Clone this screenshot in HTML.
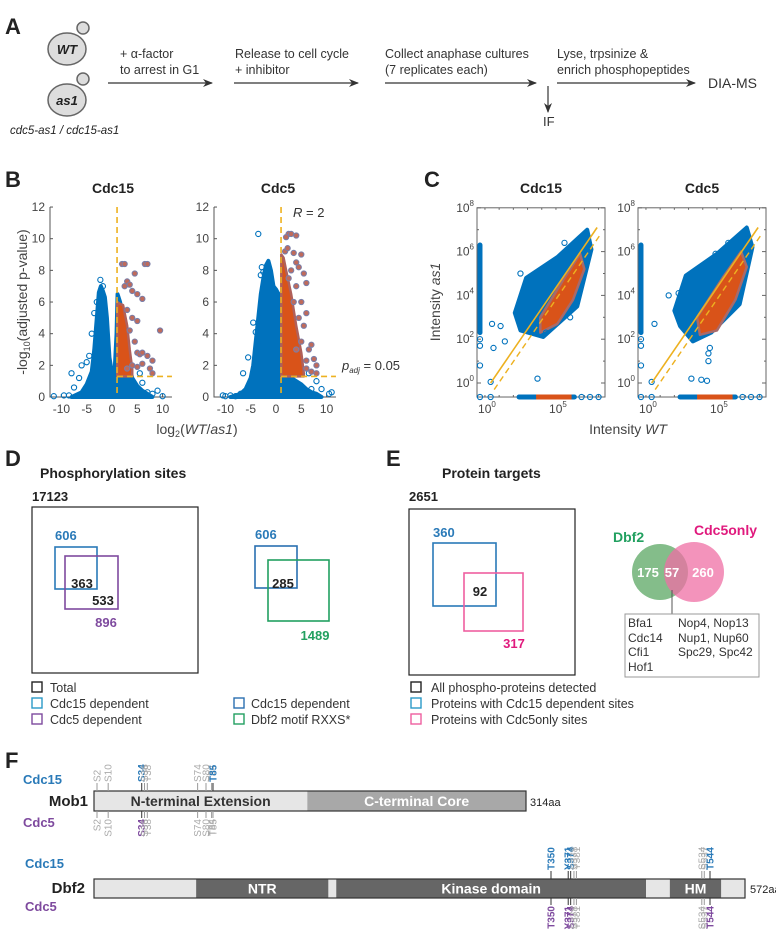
<!DOCTYPE html>
<html><head><meta charset="utf-8"><style>
body{margin:0;background:#fff}
svg{display:block;font-family:"Liberation Sans",Arial,sans-serif}
</style></head><body>
<svg id="fig" width="776" height="930" viewBox="0 0 776 930">
<defs><marker id="ah" markerWidth="10" markerHeight="8" refX="9" refY="4" orient="auto" markerUnits="userSpaceOnUse"><path d="M0,0 L10,4 L0,8 L3,4z" fill="#333"/></marker></defs>
<!-- Panel A -->
<g fill="#222">
<text x="5" y="34" font-size="22" font-weight="bold">A</text>
<circle cx="83" cy="28" r="6" fill="#ddd" stroke="#666" stroke-width="1.5"/>
<ellipse cx="67" cy="49" rx="19" ry="16" fill="#ddd" stroke="#666" stroke-width="1.5"/>
<text x="67" y="54" font-size="13" font-weight="bold" font-style="italic" text-anchor="middle">WT</text>
<circle cx="83" cy="79" r="6" fill="#ddd" stroke="#666" stroke-width="1.5"/>
<ellipse cx="67" cy="100" rx="19" ry="16" fill="#ddd" stroke="#666" stroke-width="1.5"/>
<text x="67" y="105" font-size="13" font-weight="bold" font-style="italic" text-anchor="middle">as1</text>
<text x="10" y="134" font-size="11.5" font-style="italic">cdc5-as1 / cdc15-as1</text>
<g font-size="12.5" fill="#333">
<text x="120" y="58">+ α-factor</text><text x="120" y="74">to arrest in G1</text>
<text x="235" y="58">Release to cell cycle</text><text x="235" y="74">+ inhibitor</text>
<text x="385" y="58">Collect anaphase cultures</text><text x="385" y="74">(7 replicates each)</text>
<text x="557" y="58">Lyse, trpsinize &amp;</text><text x="557" y="74">enrich phosphopeptides</text>
<text x="708" y="88" font-size="14">DIA-MS</text>
<text x="543" y="126" font-size="13">IF</text>
</g>
<g stroke="#333" stroke-width="1.2" marker-end="url(#ah)">
<line x1="108" y1="83" x2="212" y2="83"/><line x1="234" y1="83" x2="358" y2="83"/>
<line x1="385" y1="83" x2="536" y2="83"/><line x1="557" y1="83" x2="695" y2="83"/>
<line x1="548" y1="86" x2="548" y2="112"/>
</g>
</g>
<!-- Panel B/C labels -->
<g fill="#222">
<text x="5" y="187" font-size="22" font-weight="bold">B</text>
<text x="424" y="187" font-size="22" font-weight="bold">C</text>
<text x="113" y="193" font-size="14" font-weight="bold" text-anchor="middle">Cdc15</text>
<text x="278" y="193" font-size="14" font-weight="bold" text-anchor="middle">Cdc5</text>
<text x="541" y="193" font-size="14" font-weight="bold" text-anchor="middle">Cdc15</text>
<text x="702" y="193" font-size="14" font-weight="bold" text-anchor="middle">Cdc5</text>
<text transform="translate(27,302) rotate(-90)" font-size="14" fill="#444" text-anchor="middle">-log<tspan font-size="9" dy="3">10</tspan><tspan dy="-3">(adjusted p-value)</tspan></text>
<text x="197" y="434" font-size="14" fill="#444" text-anchor="middle">log<tspan font-size="9" dy="3">2</tspan><tspan dy="-3">(</tspan><tspan font-style="italic">WT</tspan>/<tspan font-style="italic">as1</tspan>)</text>
<text x="293" y="217" font-size="13" fill="#333"><tspan font-style="italic">R</tspan> = 2</text>
<text x="342" y="370" font-size="13" fill="#333"><tspan font-style="italic">p</tspan><tspan font-size="8" dy="3" font-style="italic">adj</tspan><tspan dy="-3"> = 0.05</tspan></text>
<text transform="translate(440,302) rotate(-90)" font-size="14" fill="#444" text-anchor="middle">Intensity <tspan font-style="italic">as1</tspan></text>
<text x="628" y="434" font-size="14" fill="#444" text-anchor="middle">Intensity <tspan font-style="italic">WT</tspan></text>
</g>
<g id="charts"></g>
<!-- Panel D -->
<g fill="#222">
<text x="5" y="466" font-size="22" font-weight="bold">D</text>
<text x="40" y="478" font-size="14" font-weight="bold">Phosphorylation sites</text>
<text x="32" y="501" font-size="13" font-weight="bold">17123</text>
<rect x="32" y="507" width="166" height="166" fill="none" stroke="#222" stroke-width="1.2"/>
<rect x="55" y="547" width="42" height="42" fill="none" stroke="#2a7ab8" stroke-width="1.6"/>
<rect x="65" y="556" width="53" height="53" fill="none" stroke="#7E4A9E" stroke-width="1.6"/>
<text x="55" y="540" font-size="13" font-weight="bold" fill="#2a7ab8">606</text>
<text x="82" y="588" font-size="13" font-weight="bold" text-anchor="middle">363</text>
<text x="103" y="605" font-size="13" font-weight="bold" text-anchor="middle">533</text>
<text x="106" y="627" font-size="13" font-weight="bold" text-anchor="middle" fill="#7E4A9E">896</text>
<rect x="255" y="546" width="42" height="42" fill="none" stroke="#2a6fb0" stroke-width="1.6"/>
<rect x="268" y="560" width="61" height="61" fill="none" stroke="#22a060" stroke-width="1.6"/>
<text x="255" y="539" font-size="13" font-weight="bold" fill="#2a7ab8">606</text>
<text x="283" y="588" font-size="13" font-weight="bold" text-anchor="middle">285</text>
<text x="315" y="640" font-size="13" font-weight="bold" text-anchor="middle" fill="#22a060">1489</text>
<g font-size="12.5" fill="#333">
<rect x="32" y="682" width="10" height="10" fill="none" stroke="#222" stroke-width="1.4"/><text x="50" y="692">Total</text>
<rect x="32" y="698" width="10" height="10" fill="none" stroke="#2a9ac8" stroke-width="1.4"/><text x="50" y="708">Cdc15 dependent</text>
<rect x="32" y="714" width="10" height="10" fill="none" stroke="#7E4A9E" stroke-width="1.4"/><text x="50" y="724">Cdc5 dependent</text>
<rect x="234" y="698" width="10" height="10" fill="none" stroke="#2a6fb0" stroke-width="1.4"/><text x="251" y="708">Cdc15 dependent</text>
<rect x="234" y="714" width="10" height="10" fill="none" stroke="#22a060" stroke-width="1.4"/><text x="251" y="724">Dbf2 motif RXXS*</text>
</g>
</g>
<!-- Panel E -->
<g fill="#222">
<text x="386" y="466" font-size="22" font-weight="bold">E</text>
<text x="442" y="478" font-size="14" font-weight="bold">Protein targets</text>
<text x="409" y="501" font-size="13" font-weight="bold">2651</text>
<rect x="409" y="509" width="166" height="166" fill="none" stroke="#222" stroke-width="1.2"/>
<rect x="433" y="543" width="63" height="63" fill="none" stroke="#2a7ab8" stroke-width="1.6"/>
<rect x="464" y="573" width="59" height="58" fill="none" stroke="#ee5fa0" stroke-width="1.6"/>
<text x="433" y="537" font-size="13" font-weight="bold" fill="#2a7ab8">360</text>
<text x="480" y="596" font-size="13" font-weight="bold" text-anchor="middle">92</text>
<text x="514" y="648" font-size="13" font-weight="bold" text-anchor="middle" fill="#e0197d">317</text>
<circle cx="660" cy="572" r="28" fill="#6fb276" opacity="0.85"/>
<circle cx="694" cy="572" r="30" fill="#ef6fa4" opacity="0.75"/>
<text x="613" y="542" font-size="14" font-weight="bold" fill="#22a060">Dbf2</text>
<text x="694" y="535" font-size="14" font-weight="bold" fill="#e0197d">Cdc5only</text>
<g font-size="13" font-weight="bold" fill="#fff" text-anchor="middle">
<text x="648" y="577">175</text><text x="672" y="577">57</text><text x="703" y="577">260</text></g>
<line x1="672" y1="590" x2="672" y2="614" stroke="#555" stroke-width="1"/>
<rect x="625" y="614" width="134" height="63" fill="#fff" stroke="#999" stroke-width="1"/>
<g font-size="12" fill="#333">
<text x="628" y="627">Bfa1</text><text x="628" y="642">Cdc14</text><text x="628" y="656">Cfi1</text><text x="628" y="671">Hof1</text>
<text x="678" y="627">Nop4, Nop13</text><text x="678" y="642">Nup1, Nup60</text><text x="678" y="656">Spc29, Spc42</text>
</g>
<g font-size="12.5" fill="#333">
<rect x="411" y="682" width="10" height="10" fill="none" stroke="#222" stroke-width="1.4"/><text x="431" y="692">All phospho-proteins detected</text>
<rect x="411" y="698" width="10" height="10" fill="none" stroke="#2a9ac8" stroke-width="1.4"/><text x="431" y="708">Proteins with Cdc15 dependent sites</text>
<rect x="411" y="714" width="10" height="10" fill="none" stroke="#ee5fa0" stroke-width="1.4"/><text x="431" y="724">Proteins with Cdc5only sites</text>
</g>
</g>
<!-- Panel F -->
<g>
<text x="5" y="768" font-size="22" font-weight="bold" fill="#222">F</text>
<g font-size="13" font-weight="bold">
<text x="23" y="784" fill="#2a7ab8">Cdc15</text><text x="23" y="827" fill="#7E4A9E">Cdc5</text>
<text x="25" y="868" fill="#2a7ab8">Cdc15</text><text x="25" y="911" fill="#7E4A9E">Cdc5</text>
<text x="88" y="806" font-size="15" fill="#222" text-anchor="end">Mob1</text>
<text x="85" y="893" font-size="15" fill="#222" text-anchor="end">Dbf2</text>
</g>
<g id="proteins"></g>
<text x="530" y="806" font-size="11" fill="#222">314aa</text>
<text x="750" y="893" font-size="11" fill="#222">572aa</text>
</g>
</svg>
<script>
const NS='http://www.w3.org/2000/svg';
function mk(tag,attrs,parent){const e=document.createElementNS(NS,tag);for(const k in attrs)e.setAttribute(k,attrs[k]);parent.appendChild(e);return e;}
const charts=document.getElementById('charts');

// ---- Volcano data (B) ----
const vTicksY=[0,2,4,6,8,10,12];
const vTicksX=[-10,-5,0,5,10];
const cdc15EnvX=[-8,-6,-5,-4,-3.5,-3,-2.6,-2.2,-1.8,-1.4,-1,-0.5,0,0.5,0.9,1.1,1.6,2.2,3,4,5,6,8];
const cdc15EnvY=[0,0.3,0.8,1.6,3,5,6.6,7,6.7,6.3,5,2.5,1.5,1.5,4,6.5,6,5,2.5,1.2,0.7,0.4,0];
const cdc15SigEnvX=[1.05,1.05,1.5,2.2,3,3.5,4,4];
const cdc15SigEnvY=[1.3,6,5.9,5.8,4.5,3,1.8,1.3];
const cdc15OutX=[-11.5,-9.5,-8.5,-7.5,-8,-6.5,-6,-5,-4.5,-4,-3.5,-3,-2.3,-1.8,7,8,9,10,6,5.5];
const cdc15OutY=[0.05,0.1,0.1,0.6,1.5,1.2,2,2.2,2.6,4,5.3,6,7.4,7,0.3,0.2,0.4,0.05,0.9,1.5];
const cdc15SigX=[2,2.5,6.5,7,4.5,3,3.5,2.5,4,5,6,3,4,5,3.5,4.5,5,5.5,6,7,7.5,8,9.5,6,4,3,5,8];
const cdc15SigY=[8.4,8.4,8.4,8.4,7.8,7.3,7.1,7,6.7,6.5,6.2,5.5,5,4.8,4.2,3.5,2.8,2.7,2.8,2.6,1.8,1.5,4.2,2.1,2,1.8,1.9,2.3];
const cdc5EnvX=[-9,-7,-6,-5,-4.5,-4,-3.5,-3,-2.5,-2,-1.5,-1,-0.5,0,0.5,0.9,1.5,3,5,6,7,8,9];
const cdc5EnvY=[0,0.2,0.5,1.2,2,3.5,5,6.5,7.5,8.3,8.6,8,7,6.8,6.5,6.5,2,1.2,0.8,0.5,0.3,0.2,0];
const cdc5SigEnvX=[1.05,1.05,1.5,2,3,4,5,5.5,5.5];
const cdc5SigEnvY=[1.3,9,8.8,8,6.5,4.5,2.8,1.5,1.3];
const cdc5OutX=[-10.5,-10,-9,-8,-7,-6.5,-5.5,-4.5,-4,-3.5,-3,-2.8,-3.5,-2.5,-6,9,11,10.5,7,8,6.5];
const cdc5OutY=[0.1,0.05,0.1,0.05,0.2,1.5,2.5,4.7,4.1,3.5,7.7,8.2,10.3,7.9,0.3,0.5,0.3,0.2,0.5,1,1.5];
const cdc5SigX=[2.5,3,4,2,1.8,2.3,3.5,5,4,4.5,3,5.5,6,2.5,4,3.5,5,6,4.5,5.5,7,6.5,7.5,8,6,5,6,7,4,8];
const cdc5SigY=[10.3,10.3,10.2,10.1,9.2,9.4,9.1,9,8.5,8.2,8,7.8,7.2,7.5,7,6,6,5.3,5,4.5,3.3,3,2.4,2,2.3,3.5,1.8,1.6,3,1.5];
const foldThreshold=1, pThreshold=1.3;

const BLUE='#0072BD',ORANGE='#D95319',YEL='#EDB120',SIGSTROKE='#7a7ea8';
function volcano(x0,name,envX,envY,sEnvX,sEnvY,oX,oY,sX,sY){
  const g=mk('g',{},charts);
  
  
  const X=v=>x0+(v+12.25)*5.06, Y=v=>397-v*15.83;
  const ax=mk('path',{d:`M${X(-12.25)},${Y(12)} V${Y(0)} H${X(11.85)}`,fill:'none',stroke:'#555','stroke-width':1},g);
  
  
  vTicksY.forEach(t=>{mk('line',{x1:X(-12.25),x2:X(-12.25)+3,y1:Y(t),y2:Y(t),stroke:'#555'},g);
    const tx=mk('text',{x:X(-12.25)-5,y:Y(t)+4,'font-size':12,fill:'#444','text-anchor':'end'},g);tx.textContent=t;
    
    });
  vTicksX.forEach(t=>{mk('line',{x1:X(t),x2:X(t),y1:Y(0),y2:Y(0)-3,stroke:'#555'},g);
    const tx=mk('text',{x:X(t),y:413,'font-size':12,fill:'#444','text-anchor':'middle'},g);tx.textContent=t;
    
    });
  let pts=envX.map((v,i)=>X(v)+','+Y(envY[i])).join(' ');
  const env=mk('polygon',{points:pts,fill:BLUE,stroke:BLUE,'stroke-width':4,'stroke-linejoin':'round'},g);
  
  
  oX.forEach((v,i)=>{const c=mk('circle',{cx:X(v),cy:Y(oY[i]),r:2.6,fill:'none',stroke:BLUE,'stroke-width':1.1},g);
    
    });
  pts=sEnvX.map((v,i)=>X(v)+','+Y(sEnvY[i])).join(' ');
  const se=mk('polygon',{points:pts,fill:ORANGE,stroke:'#b0605a','stroke-width':2.5,'stroke-linejoin':'round'},g);
  
  
  sX.forEach((v,i)=>{const c=mk('circle',{cx:X(v),cy:Y(sY[i]),r:2.6,fill:'#c06a5a',stroke:SIGSTROKE,'stroke-width':1.1},g);
    
    });
  const vl=mk('line',{x1:X(foldThreshold),x2:X(foldThreshold),y1:Y(12),y2:Y(0),stroke:YEL,'stroke-width':1.6,'stroke-dasharray':'6,4'},g);
  
  
  const hl=mk('line',{x1:X(foldThreshold),x2:X(11.85),y1:Y(pThreshold),y2:Y(pThreshold),stroke:YEL,'stroke-width':1.6,'stroke-dasharray':'6,4'},g);
  
  
}
volcano(50,'volcano-cdc15',cdc15EnvX,cdc15EnvY,cdc15SigEnvX,cdc15SigEnvY,cdc15OutX,cdc15OutY,cdc15SigX,cdc15SigY);
volcano(214,'volcano-cdc5',cdc5EnvX,cdc5EnvY,cdc5SigEnvX,cdc5SigEnvY,cdc5OutX,cdc5OutY,cdc5SigX,cdc5SigY);

// ---- Intensity scatter data (C), log10 units ----
const cTicksY=[0,2,4,6,8];
const cTicksX=[0,5];
const cloud15X=[2.1,2.9,5.1,7.2,7.5,6.5,4.1,2.5];
const cloud15Y=[3.2,4.8,5.75,7.0,6.1,3.5,2.1,2.4];
const orange15X=[3.9,5.5,6.7,7.0,6.2,5.1,3.9];
const orange15Y=[3.0,4.7,5.9,5.2,3.8,2.7,2.3];
const cloud5X=[2.0,2.8,5.0,7.1,7.5,6.6,4.6,3.3,2.4];
const cloud5Y=[3.3,4.9,5.9,7.1,6.2,3.6,2.3,1.9,2.6];
const orange5X=[3.6,5.4,6.7,7.1,6.3,5.0,3.8];
const orange5Y=[3.0,4.8,6.0,5.3,3.8,2.4,2.2];
const out15X=[0.4,0.6,1.4,0.5,1.1,3.7,2.5,3.0,4.6,5.6,7.1,6.0,4.3];
const out15Y=[0.05,1.6,1.9,2.7,2.6,0.2,5.0,4.5,5.4,6.4,6.0,3.0,2.3];
const out5X=[0.4,1.6,2.3,0.6,3.2,3.9,4.3,4.4,4.4,4.5,4.9,5.8,7.0];
const out5Y=[0.05,4.0,4.1,2.7,0.2,0.15,0.1,1.0,1.35,1.6,5.9,6.4,6.6];
const stripY=[2.3,6.3];
const stripXOut=[2.0,1.7,0.8];
const bottomX=[2.4,6.3];
const bottomOrangeX=[3.6,6.1];
const bottomOut=[0.4,6.8,7.4,8.0];
const fitX=[0.4,7.9], fitY=[0.0,7.1];
const fit2Y=[-0.3,6.8];
function scatter(x0,name,cX,cY,oX,oY,outX,outY){
  const g=mk('g',{},charts);
  
  
  const X=v=>x0+(v+0.56)*14.2, Y=v=>383-v*21.9;
  const L=X(-0.56),R=x0+128,T=Y(8),B=Y(-0.64);
  const box=mk('rect',{x:L,y:T,width:R-L,height:B-T,fill:'none',stroke:'#666','stroke-width':1},g);
  
  
  for(let d=0;d<=8;d++){const big=d%2==0;mk('line',{x1:L,x2:L+(big?4:2),y1:Y(d),y2:Y(d),stroke:'#666'},g);mk('line',{x1:R,x2:R-(big?4:2),y1:Y(d),y2:Y(d),stroke:'#666'},g);
    mk('line',{x1:X(d),x2:X(d),y1:B,y2:B-2,stroke:'#666'},g);mk('line',{x1:X(d),x2:X(d),y1:T,y2:T+2,stroke:'#666'},g);}
  cTicksY.forEach(t=>{const tx=mk('text',{x:L-3,y:Y(t)+4,'font-size':12,fill:'#444','text-anchor':'end'},g);
    tx.innerHTML='10<tspan font-size="8" dy="-6">'+t+'</tspan>';
    
    });
  cTicksX.forEach(t=>{const tx=mk('text',{x:X(t)+2,y:413,'font-size':12,fill:'#444','text-anchor':'middle'},g);
    tx.innerHTML='10<tspan font-size="8" dy="-6">'+t+'</tspan>';
    
    });
  const c1=mk('polygon',{points:cX.map((v,i)=>X(v)+','+Y(cY[i])).join(' '),fill:BLUE,stroke:BLUE,'stroke-width':4,'stroke-linejoin':'round'},g);
  
  
  const c2=mk('polygon',{points:oX.map((v,i)=>X(v)+','+Y(oY[i])).join(' '),fill:ORANGE,stroke:'#a86a6a','stroke-width':2.5,'stroke-linejoin':'round'},g);
  
  
  const s1=mk('line',{x1:X(-0.35),x2:X(-0.35),y1:Y(stripY[0]),y2:Y(stripY[1]),stroke:BLUE,'stroke-width':5,'stroke-linecap':'round'},g);
  
  
  stripXOut.concat([-0.64]).forEach(v=>{const c=mk('circle',{cx:X(-0.35),cy:Y(v),r:2.6,fill:'none',stroke:BLUE,'stroke-width':1.1},g);
    
    });
  const s2=mk('line',{x1:X(bottomX[0]),x2:X(bottomX[1]),y1:B,y2:B,stroke:BLUE,'stroke-width':5,'stroke-linecap':'round'},g);
  
  
  const s3=mk('line',{x1:X(bottomOrangeX[0]),x2:X(bottomOrangeX[1]),y1:B,y2:B,stroke:ORANGE,'stroke-width':5},g);
  
  
  bottomOut.forEach(v=>{const c=mk('circle',{cx:X(v),cy:B,r:2.6,fill:'none',stroke:BLUE,'stroke-width':1.1},g);
    
    });
  outX.forEach((v,i)=>{const c=mk('circle',{cx:X(v),cy:Y(outY[i]),r:2.6,fill:'none',stroke:BLUE,'stroke-width':1.1},g);
    
    });
  const f1=mk('line',{x1:X(fitX[0]),y1:Y(fitY[0]),x2:X(fitX[1]),y2:Y(fitY[1]),stroke:YEL,'stroke-width':1.6},g);
  
  
  const f2=mk('line',{x1:X(fitX[0]+0.25),y1:Y(fit2Y[0]),x2:X(fitX[1]+0.25),y2:Y(fit2Y[1]),stroke:YEL,'stroke-width':1.4,'stroke-dasharray':'6,4'},g);
  
  
}
scatter(477,'scatter-cdc15',cloud15X,cloud15Y,orange15X,orange15Y,out15X,out15Y);
scatter(638,'scatter-cdc5',cloud5X,cloud5Y,orange5X,orange5Y,out5X,out5Y);

// ---- Protein diagrams (F) ----
const P=document.getElementById('proteins');
const mob1Sites=['S2','S10','S34','S36','T38','S74','S80','T84','T85'];
const mob1Pos=[2,10,34,36,38,74,80,84,85];
const mob1Cdc15=['S34','T85'], mob1Cdc5=['S34'];
const dbf2Sites=['T350','Y371','S374','S378','Y381','S534','S537','T544'];
const dbf2Pos=[350,371,374,378,381,534,537,544];
const dbf2Cdc15=['T350','Y371','S374','T544'], dbf2Cdc5=['T350','Y371','S374','T544'];
const mob1Domains=[[1,154,'N-terminal Extension','#e6e6e6','#333'],[154,314,'C-terminal Core','#a8a8a8','#fff']];
const dbf2Domains=[[1,79,'','#e6e6e6',''],[79,180,'NTR','#666','#fff'],[180,186,'','#e6e6e6',''],[186,466,'Kinase domain','#666','#fff'],[466,495,'','#e6e6e6',''],[495,553,'HM','#666','#fff'],[553,572,'','#e6e6e6','']];
// residue -> drawing-scale anchors (the diagram is not drawn to a uniform scale)
const mob1AnchorAA=[1,2,85,314], mob1AnchorPx=[94,97,213,526];
const dbf2AnchorAA=[1,350,544,572], dbf2AnchorPx=[94,551,710,745];
function pw(aa,A,Px){for(let i=0;i<A.length-1;i++){if(aa<=A[i+1]||i==A.length-2){return Px[i]+(aa-A[i])/(A[i+1]-A[i])*(Px[i+1]-Px[i]);}}}
function protein(name,A,Px,y0,y1,domains,sites,pos,up,down){
  const g=mk('g',{},P);
  
  
  const X=a=>pw(a,A,Px);
  const x0=X(A[0]),x1=X(A[A.length-1]);
  domains.forEach(d=>{const r=mk('rect',{x:X(d[0]),y:y0,width:X(d[1])-X(d[0]),height:y1-y0,fill:d[3]},g);
    
    
    if(d[2]){const t=mk('text',{x:(X(d[0])+X(d[1]))/2,y:(y0+y1)/2+5,'font-size':14,'font-weight':'bold',fill:d[4],'text-anchor':'middle'},g);t.textContent=d[2];
      
      }});
  mk('rect',{x:x0,y:y0,width:x1-x0,height:y1-y0,fill:'none',stroke:'#333','stroke-width':1.2},g);
  sites.forEach((s,i)=>{const x=X(pos[i]);
    const u=up.includes(s),dn=down.includes(s);
    mk('line',{x1:x,x2:x,y1:y0-8,y2:y0,stroke:u?'#333':'#999','stroke-width':1},g);
    mk('line',{x1:x,x2:x,y1:y1,y2:y1+7,stroke:dn?'#333':'#999','stroke-width':1},g);
    const a=mk('text',{transform:`translate(${x+3.5},${y0-9}) rotate(-90)`,'font-size':10,fill:u?'#2a7ab8':'#aaa','font-weight':u?'bold':'normal'},g);a.textContent=s;
    
    
    const b=mk('text',{transform:`translate(${x+3.5},${y1+8}) rotate(-90)`,'font-size':10,fill:dn?'#7E4A9E':'#aaa','font-weight':dn?'bold':'normal','text-anchor':'end'},g);b.textContent=s;
    
    });
}
protein('mob1-diagram',mob1AnchorAA,mob1AnchorPx,791,811,mob1Domains,mob1Sites,mob1Pos,mob1Cdc15,mob1Cdc5);
protein('dbf2-diagram',dbf2AnchorAA,dbf2AnchorPx,879,898,dbf2Domains,dbf2Sites,dbf2Pos,dbf2Cdc15,dbf2Cdc5);
</script>
</body></html>
